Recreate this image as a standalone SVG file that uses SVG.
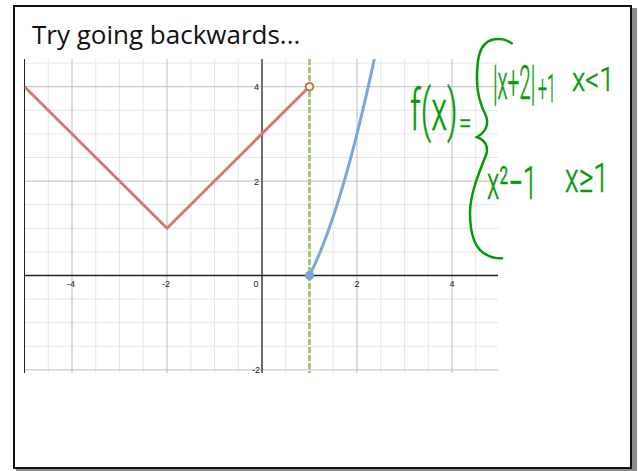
<svg xmlns="http://www.w3.org/2000/svg" width="638" height="471" viewBox="0 0 638 471">
<style>
.minor{stroke:#e6e6e6;stroke-width:1}
.major{stroke:#bdbdbd;stroke-width:1}
.lbl{font-family:"Liberation Sans",Arial,sans-serif;font-size:9px;fill:#222}
.hw{font-family:Roboto,"Liberation Sans",Arial,sans-serif;font-weight:300;fill:#069a06;stroke:#069a06;stroke-width:0.5}
</style>
<defs>
<clipPath id="plot"><rect x="24.5" y="59" width="473.5" height="314"/></clipPath>
</defs>
<rect width="638" height="471" fill="#fff"/>
<g id="frame">
<rect x="632" y="8" width="5" height="463" fill="#8a8a8a"/>
<rect x="16" y="469" width="621" height="2" fill="#8a8a8a"/>
<rect x="14" y="6" width="617" height="462" fill="none" stroke="#111" stroke-width="2"/>
</g>
<g id="title">
<text x="32" y="44" font-family="'Open Sans','Noto Sans',sans-serif" font-size="26" fill="#111">Try going backwards...</text>
</g>
<g id="graph">
<g id="grid" clip-path="url(#plot)">
<g class="minor">
<line x1="48.25" y1="59" x2="48.25" y2="373"/><line x1="95.75" y1="59" x2="95.75" y2="373"/><line x1="119.5" y1="59" x2="119.5" y2="373"/><line x1="143.25" y1="59" x2="143.25" y2="373"/><line x1="190.75" y1="59" x2="190.75" y2="373"/><line x1="214.5" y1="59" x2="214.5" y2="373"/><line x1="238.25" y1="59" x2="238.25" y2="373"/><line x1="285.75" y1="59" x2="285.75" y2="373"/><line x1="309.5" y1="59" x2="309.5" y2="373"/><line x1="333.25" y1="59" x2="333.25" y2="373"/><line x1="380.75" y1="59" x2="380.75" y2="373"/><line x1="404.5" y1="59" x2="404.5" y2="373"/><line x1="428.25" y1="59" x2="428.25" y2="373"/><line x1="475.75" y1="59" x2="475.75" y2="373"/>
<line x1="24.5" y1="63.1" x2="498" y2="63.1"/><line x1="24.5" y1="110.3" x2="498" y2="110.3"/><line x1="24.5" y1="133.9" x2="498" y2="133.9"/><line x1="24.5" y1="157.5" x2="498" y2="157.5"/><line x1="24.5" y1="204.7" x2="498" y2="204.7"/><line x1="24.5" y1="228.3" x2="498" y2="228.3"/><line x1="24.5" y1="251.9" x2="498" y2="251.9"/><line x1="24.5" y1="299.1" x2="498" y2="299.1"/><line x1="24.5" y1="322.7" x2="498" y2="322.7"/><line x1="24.5" y1="346.3" x2="498" y2="346.3"/>
</g>
<g class="major">
<line x1="72" y1="59" x2="72" y2="373"/><line x1="167" y1="59" x2="167" y2="373"/><line x1="357" y1="59" x2="357" y2="373"/><line x1="452" y1="59" x2="452" y2="373"/>
<line x1="24.5" y1="86.7" x2="498" y2="86.7"/><line x1="24.5" y1="181.1" x2="498" y2="181.1"/><line x1="24.5" y1="369.9" x2="498" y2="369.9"/>
</g>
</g>
<g id="axes">
<line x1="24.5" y1="59" x2="24.5" y2="373" stroke="#222" stroke-width="1"/>
<line x1="262" y1="59" x2="262" y2="373" stroke="#6e6e6e" stroke-width="2"/>
<line x1="24.5" y1="275.5" x2="498" y2="275.5" stroke="#222" stroke-width="1.5"/>
</g>
<g id="labels">
<text class="lbl" x="259" y="90" text-anchor="end">4</text>
<text class="lbl" x="259" y="184.5" text-anchor="end">2</text>
<text class="lbl" x="260" y="373" text-anchor="end">-2</text>
<text class="lbl" x="71" y="287" text-anchor="middle">-4</text>
<text class="lbl" x="166" y="287" text-anchor="middle">-2</text>
<text class="lbl" x="256" y="287" text-anchor="middle">0</text>
<text class="lbl" x="357" y="287" text-anchor="middle">2</text>
<text class="lbl" x="452" y="287" text-anchor="middle">4</text>
</g>
<g id="curves" clip-path="url(#plot)" fill="none">
<line x1="309.5" y1="59" x2="309.5" y2="373" stroke="#a9c97a" stroke-width="3" stroke-dasharray="6 2"/>
<polyline points="24.5,86.7 167,228.3 306.5,89.5" stroke="#d07a74" stroke-width="3" stroke-linejoin="round"/>
<path d="M309.5,275.5 Q342,210.8 374.6,57.6" stroke="#7ea6d8" stroke-width="3"/>
<circle cx="309.5" cy="86.7" r="3.8" fill="#fff" stroke="#c4764a" stroke-width="2"/>
<circle cx="309.5" cy="275.5" r="4.5" fill="#7aa0d6"/>
</g>
</g>
<g id="formula">
<path d="M511.7,43.3 C505,38 492,37 485,44 C479,50 477,60 477,80 C477,95 481,106 486,116 C489,124 486,132 477,137 C485,140 489,147 486,155 C478,175 470,195 470,213 C470,235 476,250 487,255 C492,258 497,258.5 502,258.3" fill="none" stroke="#069a06" stroke-width="2.5" stroke-linecap="round"/>
<text class="hw" transform="translate(410 130) scale(0.57 1)" font-size="57">f(x)</text>
<text class="hw" transform="translate(459 133) scale(0.75 1)" font-size="30">=</text>
<text class="hw" transform="translate(493 99) scale(0.43 1)" font-size="48">|x+2|</text>
<text class="hw" transform="translate(538 102) scale(0.42 1)" font-size="38">+1</text>
<text class="hw" transform="translate(572 91) scale(0.8 1)" font-size="34">x&lt;1</text>
<text class="hw" transform="translate(487 199) scale(0.55 1)" font-size="46">x²−1</text>
<text class="hw" transform="translate(565 192) scale(0.7 1)" font-size="40">x≥1</text>
</g>
</svg>
